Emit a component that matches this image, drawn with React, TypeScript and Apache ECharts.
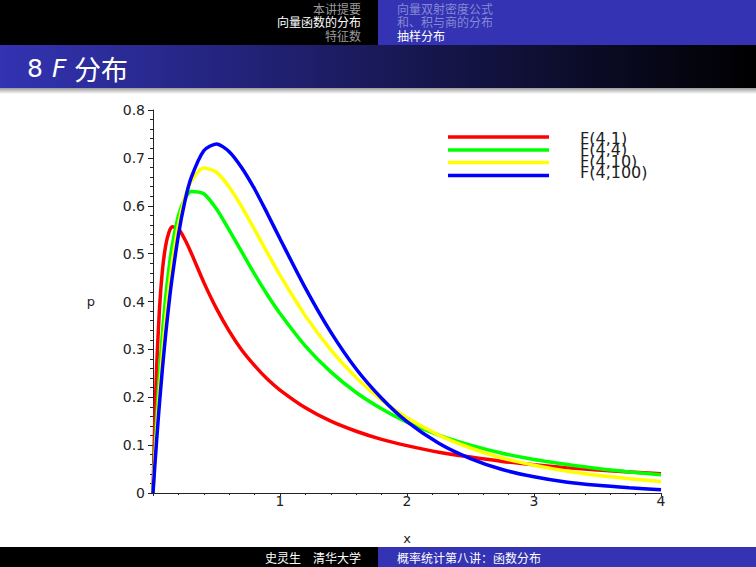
import React, { useEffect, useRef } from "react";
import * as echarts from "echarts";

const xs = [0, 0.01, 0.02, 0.03, 0.05, 0.075, 0.1, 0.125, 0.15, 0.2, 0.25, 0.3, 0.4, 0.5, 0.6, 0.7, 0.8, 0.9, 1.0, 1.2, 1.4, 1.6, 1.8, 2.0, 2.25, 2.5, 2.75, 3.0, 3.25, 3.5, 3.75, 4.0];
const f4_1 = [0, 0.109, 0.198, 0.271, 0.38, 0.467, 0.517, 0.544, 0.556, 0.552, 0.53, 0.502, 0.44, 0.385, 0.338, 0.298, 0.266, 0.238, 0.215, 0.178, 0.15, 0.129, 0.112, 0.099, 0.085, 0.075, 0.066, 0.059, 0.053, 0.048, 0.044, 0.04];
const f4_4 = [0, 0.058, 0.111, 0.16, 0.247, 0.337, 0.41, 0.468, 0.515, 0.579, 0.614, 0.63, 0.625, 0.593, 0.549, 0.503, 0.457, 0.414, 0.375, 0.307, 0.253, 0.21, 0.176, 0.148, 0.121, 0.1, 0.083, 0.07, 0.06, 0.051, 0.044, 0.038];
const f4_10 = [0, 0.047, 0.091, 0.133, 0.209, 0.293, 0.365, 0.426, 0.479, 0.56, 0.616, 0.651, 0.679, 0.67, 0.639, 0.597, 0.55, 0.502, 0.455, 0.37, 0.299, 0.241, 0.194, 0.157, 0.121, 0.094, 0.073, 0.058, 0.046, 0.037, 0.03, 0.024];
const f4_100 = [0, 0.04, 0.078, 0.115, 0.184, 0.262, 0.332, 0.394, 0.448, 0.539, 0.608, 0.658, 0.715, 0.729, 0.713, 0.679, 0.635, 0.584, 0.531, 0.428, 0.336, 0.259, 0.198, 0.149, 0.104, 0.072, 0.049, 0.034, 0.023, 0.016, 0.011, 0.007];

const seriesNames = ["F(4,1)", "F(4,4)", "F(4,10)", "F(4,100)"];
const seriesValues = [f4_1, f4_4, f4_10, f4_100];
const seriesColors = ["#ff0000", "#00ff00", "#ffff00", "#0000ff"];

const headerLeft = ["本讲提要", "向量函数的分布", "特征数"];
const headerRight = ["向量双射密度公式", "和、积与商的分布", "抽样分布"];
const footerLeft = "史灵生　清华大学";
const footerRight = "概率统计第八讲：函数分布";
const titleParts = ["8", "F", "分布"];

const CJK = '"Noto Sans CJK SC", sans-serif';
const AXF = '"DejaVu Sans", sans-serif';

export default function App() {
  const ref = useRef<HTMLDivElement>(null);
  useEffect(() => {
    const chart = echarts.init(ref.current!, null, { renderer: "svg" });
    const graphic: any[] = [
      { type: "rect", shape: { x: 0, y: 0, width: 378, height: 45 }, style: { fill: "#000" }, z: 0 },
      { type: "rect", shape: { x: 378, y: 0, width: 378, height: 45 }, style: { fill: "#3333b3" }, z: 0 },
      {
        type: "rect",
        shape: { x: 0, y: 45, width: 756, height: 43 },
        style: {
          fill: new echarts.graphic.LinearGradient(0, 0, 1, 0, [
            { offset: 0, color: "#3333b3" },
            { offset: 1, color: "#000000" },
          ]),
        },
        z: 0,
      },
      {
        type: "rect",
        shape: { x: 0, y: 88, width: 756, height: 6 },
        style: {
          fill: new echarts.graphic.LinearGradient(0, 0, 0, 1, [
            { offset: 0, color: "#9a9a9a" },
            { offset: 1, color: "#ffffff" },
          ]),
        },
        z: 0,
      },
      { type: "rect", shape: { x: 0, y: 547, width: 378, height: 20 }, style: { fill: "#000" }, z: 0 },
      { type: "rect", shape: { x: 378, y: 547, width: 378, height: 20 }, style: { fill: "#3333b3" }, z: 0 },
      {
        type: "text",
        x: 27,
        y: 68,
        style: { text: titleParts[0], fill: "#fff", font: "25px " + AXF, verticalAlign: "middle" },
        z: 1,
      },
      {
        type: "text",
        x: 52,
        y: 68,
        style: { text: titleParts[1], fill: "#fff", font: "italic 25px " + AXF, verticalAlign: "middle" },
        z: 1,
      },
      {
        type: "text",
        x: 74,
        y: 68,
        style: { text: titleParts[2], fill: "#fff", font: "27px " + CJK, verticalAlign: "middle" },
        z: 1,
      },
      {
        type: "text",
        x: 361,
        y: 557,
        style: { text: footerLeft, fill: "#fff", font: "12px " + CJK, lineHeight: 13, align: "right", verticalAlign: "middle" },
        z: 1,
      },
      {
        type: "text",
        x: 397,
        y: 557,
        style: { text: footerRight, fill: "#fff", font: "12px " + CJK, lineHeight: 13, align: "left", verticalAlign: "middle" },
        z: 1,
      },
    ];
    const rowsY = [8, 21, 35];
    headerLeft.forEach((t, i) => {
      graphic.push({
        type: "text",
        x: 361,
        y: rowsY[i],
        style: { text: t, fill: i === 1 ? "#ffffff" : "#9a9a9a", font: "12px " + CJK, lineHeight: 12, align: "right", verticalAlign: "middle" },
        z: 1,
      });
    });
    headerRight.forEach((t, i) => {
      graphic.push({
        type: "text",
        x: 397,
        y: rowsY[i],
        style: { text: t, fill: i === 2 ? "#ffffff" : "#8888d4", font: "12px " + CJK, lineHeight: 12, align: "left", verticalAlign: "middle" },
        z: 1,
      });
    });
    // legend (drawn by hand to reproduce the tight spacing)
    const legendLineY = [137, 150, 162.5, 175.5];
    const legendTextY = [138, 149.5, 161, 172];
    seriesNames.forEach((name, k) => {
      graphic.push({
        type: "line",
        shape: { x1: 448, y1: legendLineY[k], x2: 549, y2: legendLineY[k] },
        style: { stroke: seriesColors[k], lineWidth: 3.5 },
        z: 5,
      });
      graphic.push({
        type: "text",
        x: 580,
        y: legendTextY[k],
        style: { text: name, fill: "#222", font: "16px " + AXF, lineHeight: 11, verticalAlign: "middle" },
        z: 5,
      });
    });

    chart.setOption({
      animation: false,
      backgroundColor: "#fff",
      graphic,
      grid: { left: 153, right: 95, top: 110, bottom: 74, containLabel: false },
      xAxis: {
        type: "value",
        min: 0,
        max: 4,
        interval: 1,
        name: "x",
        nameLocation: "middle",
        nameGap: 39,
        nameTextStyle: { fontFamily: AXF, fontSize: 13, color: "#222" },
        axisLine: { onZero: false, lineStyle: { color: "#222", width: 1 } },
        axisTick: { show: true, length: 3, lineStyle: { color: "#222" } },
        minorTick: { show: true, splitNumber: 5, length: 2, lineStyle: { color: "#222" } },
        axisLabel: {
          fontFamily: AXF,
          fontSize: 14,
          color: "#222",
          margin: 1,
          formatter: (v: number) => (v === 0 ? "" : String(v)),
        },
        splitLine: { show: false },
      },
      yAxis: {
        type: "value",
        min: 0,
        max: 0.8,
        interval: 0.1,
        name: "p",
        nameLocation: "middle",
        nameRotate: 0,
        nameGap: 58,
        nameTextStyle: { fontFamily: AXF, fontSize: 13, color: "#222" },
        axisLine: { show: true, lineStyle: { color: "#222", width: 1 } },
        axisTick: { show: true, length: 5, lineStyle: { color: "#222" } },
        minorTick: { show: true, splitNumber: 5, length: 3, lineStyle: { color: "#222" } },
        axisLabel: {
          fontFamily: AXF,
          fontSize: 14,
          color: "#222",
          margin: 8,
          formatter: (v: number) => (v === 0 ? "0" : v.toFixed(1)),
        },
        splitLine: { show: false },
      },
      series: seriesNames.map((name, k) => ({
        name,
        type: "line",
        data: xs.map((x, i) => [x, seriesValues[k][i]]),
        showSymbol: false,
        smooth: 0.25,
        lineStyle: { color: seriesColors[k], width: 3.5 },
        itemStyle: { color: seriesColors[k] },
        z: 2 + k,
      })),
    });
    return () => chart.dispose();
  }, []);
  return <div ref={ref} style={{ position: "fixed", left: 0, top: 0, width: 756, height: 567 }} />;
}
